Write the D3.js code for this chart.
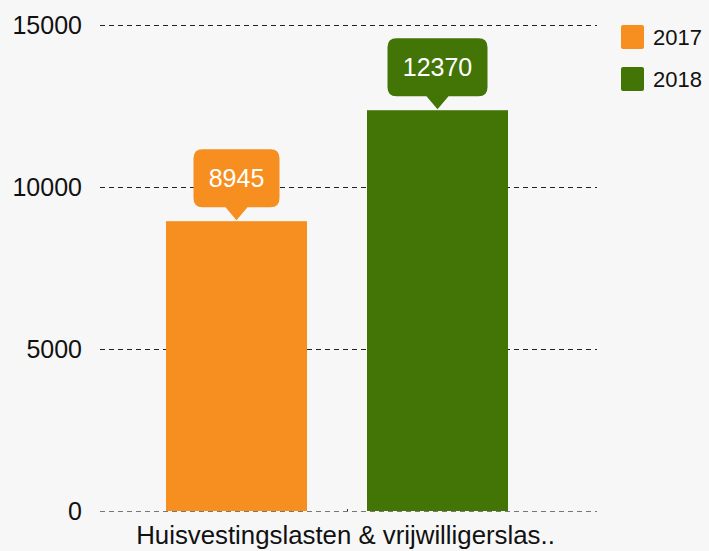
<!DOCTYPE html>
<html><head><meta charset="utf-8">
<script src="https://cdn.jsdelivr.net/npm/d3@7"></script>
<style>
html,body{margin:0;padding:0;background:#f7f7f7;}
svg{display:block;font-family:"Liberation Sans",Arial,sans-serif;}
</style></head>
<body>
<svg id="c" width="709" height="551"></svg>
<script>
const categories = ["Huisvestingslasten & vrijwilligerslas.."];
const seriesNames = ["2017", "2018"];
const values2017 = [8945];
const values2018 = [12370];
const yTicks = [0, 5000, 10000, 15000];
const colors = ["#f68f1f", "#427506"];

const FONT = '"Liberation Sans",Arial,sans-serif';
const svg = d3.select("#c");
svg.append("rect").attr("width",709).attr("height",551).attr("fill","#f7f7f7");

const mLeft = 100, mRight = 597, mTop = 25, mBottom = 511;
const y = d3.scaleLinear().domain([0, 15000]).range([mBottom, mTop]);
const x0 = d3.scaleBand().domain(categories).range([mLeft, mRight]).paddingInner(0).paddingOuter(0);
const x1 = d3.scaleBand().domain(seriesNames).range([66, 408]).paddingInner(60/201).paddingOuter(0);

// grid lines
const grid = svg.append("g");
yTicks.forEach(t => {
  grid.append("line").attr("x1", mLeft).attr("x2", mRight)
    .attr("y1", Math.round(y(t)) + 0.5).attr("y2", Math.round(y(t)) + 0.5)
    .attr("stroke", t === 0 ? "#777" : "#222").attr("stroke-width", 1)
    .attr("stroke-dasharray", "5,4");
});

// y-axis labels
const yAxis = d3.axisLeft(y).tickValues(yTicks).tickSize(0).tickPadding(0).tickFormat(d3.format("d"));
const ya = svg.append("g").attr("transform", `translate(82,0)`).call(yAxis);
ya.select(".domain").remove();
ya.selectAll("text").attr("font-size", 25).attr("fill", "#111").attr("font-family", FONT);

// x-axis label
const xAxis = d3.axisBottom(x0).tickSize(0).tickPadding(15);
const xa = svg.append("g").attr("transform", `translate(-3,${mBottom})`).call(xAxis);
xa.select(".domain").remove();
xa.selectAll("text").attr("font-size", 25.8).attr("fill", "#111").attr("font-family", FONT);
// tiny category tick
svg.append("line").attr("x1", 347.5).attr("x2", 347.5)
  .attr("y1", mBottom - 2).attr("y2", mBottom).attr("stroke", "#333");

// bars
const series = [values2017, values2018];
const bars = svg.append("g");
categories.forEach((c, i) => {
  series.forEach((vals, s) => {
    const bx = x0(c) + x1(seriesNames[s]);
    const bw = x1.bandwidth();
    const by = y(vals[i]);
    bars.append("rect").attr("x", bx).attr("y", by).attr("width", bw).attr("height", mBottom - by)
      .attr("fill", colors[s]);
    // callout
    const cx = bx + bw / 2;
    const label = String(vals[i]);
    const bwid = label.length * 14 + 30;
    const bh = 58, tipH = 14, tipW = 11, r = 9;
    const boxBottom = by - tipH;
    const boxTop = boxBottom - bh;
    const xl = cx - bwid / 2, xr = cx + bwid / 2;
    const p = d3.path();
    p.moveTo(xl + r, boxTop);
    p.lineTo(xr - r, boxTop);
    p.quadraticCurveTo(xr, boxTop, xr, boxTop + r);
    p.lineTo(xr, boxBottom - r);
    p.quadraticCurveTo(xr, boxBottom, xr - r, boxBottom);
    p.lineTo(cx + tipW, boxBottom);
    p.lineTo(cx, by - 1);
    p.lineTo(cx - tipW, boxBottom);
    p.lineTo(xl + r, boxBottom);
    p.quadraticCurveTo(xl, boxBottom, xl, boxBottom - r);
    p.lineTo(xl, boxTop + r);
    p.quadraticCurveTo(xl, boxTop, xl + r, boxTop);
    p.closePath();
    bars.append("path").attr("d", p.toString()).attr("fill", colors[s]);
    bars.append("text").attr("x", cx).attr("y", boxTop + 38)
      .attr("text-anchor", "middle").attr("font-size", 25).attr("fill", "#fff").text(label);
  });
});

// legend
const lg = svg.append("g").attr("transform", "translate(621,25)");
seriesNames.forEach((n, i) => {
  const g = lg.append("g").attr("transform", `translate(0,${i * 42})`);
  g.append("rect").attr("width", 23).attr("height", 24).attr("rx", 2).attr("fill", colors[i]);
  g.append("text").attr("x", 32).attr("y", 20).attr("font-size", 22).attr("fill", "#111").text(n);
});
</script>
</body></html>
